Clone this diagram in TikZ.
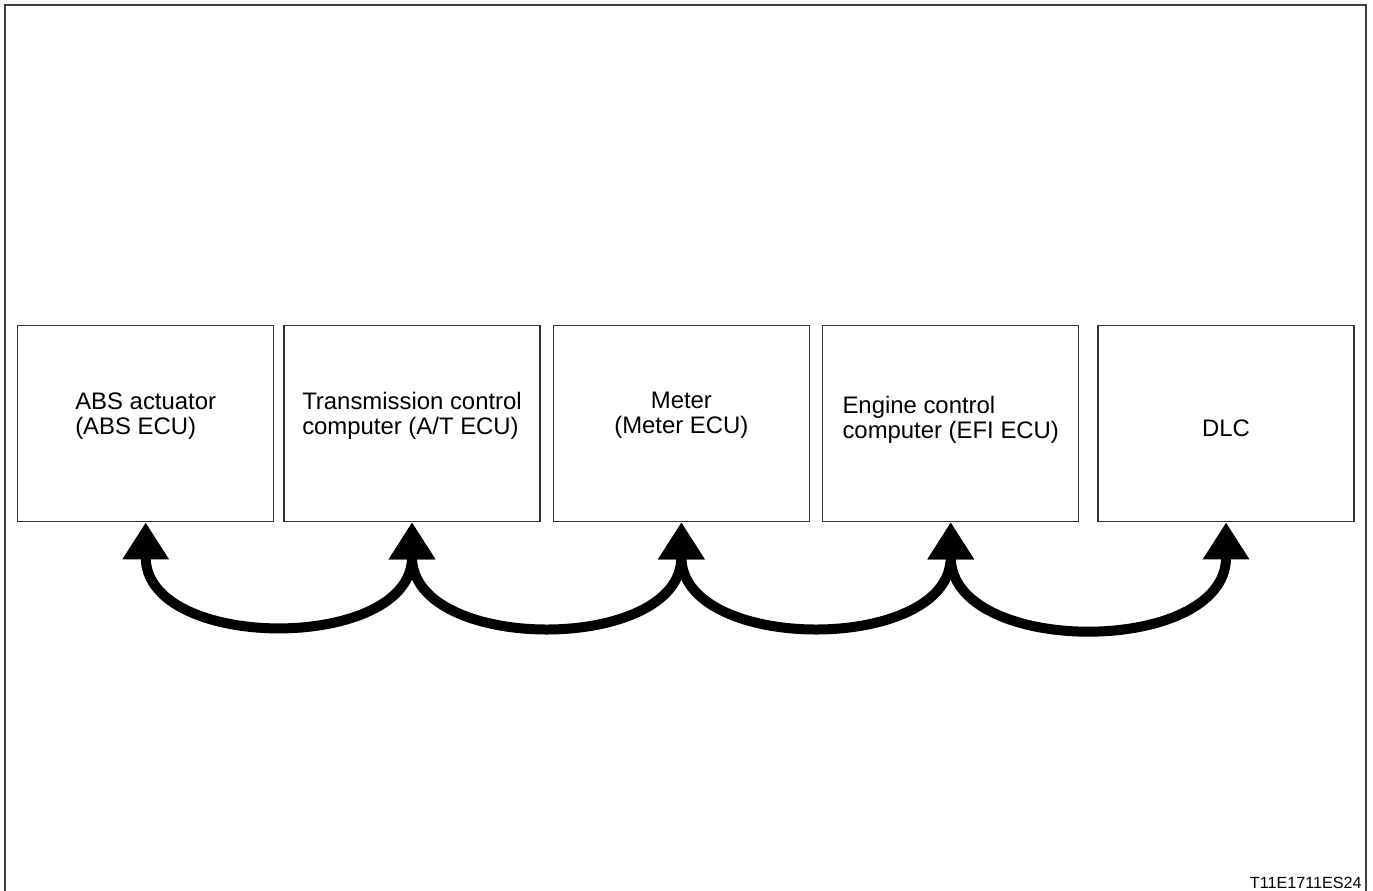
\documentclass[tikz,border=0pt]{standalone}
\usepackage{fontspec}
\setmainfont{Liberation Sans}
\usetikzlibrary{arrows.meta,positioning}
\tikzset{%
  >={Triangle[width=0.88cm,length=0.74cm]},
  % Specifications for style of nodes:
        base/.style = {rectangle, draw=black!80, line width=0.8pt,
                       minimum width=5.12cm, minimum height=3.92cm,
                       inner sep=0pt, font=\fontsize{13.6}{14.2}\selectfont},
      ecubox/.style = {base, align=left, text depth=11.9pt},
    meterbox/.style = {base, align=center, text depth=11.9pt},
      dlcbox/.style = {base, text height=14.3pt, text depth=0pt},
        link/.style = {<->, line width=0.2cm, looseness=1.25},
}
\begin{document}
\begin{tikzpicture}[x=0.02cm, y=-0.02cm]
  \useasboundingbox (0,0) rectangle (1373,891);
  % Outer frame (open at the bottom)
  \draw[black!75, line width=1.1pt] (5,891) -- (5,5) -- (1366,5) -- (1366,891);

  % Specification of nodes (position, etc.)
  \node (absEcu)   [ecubox, anchor=north west] at (17,325)  {ABS actuator\\(ABS ECU)};
  \node (atEcu)    [ecubox, right=0.18cm of absEcu]          {Transmission control\\computer (A/T ECU)};
  \node (meterEcu) [meterbox, right=0.24cm of atEcu]         {Meter\\(Meter ECU)};
  \node (efiEcu)   [ecubox, text depth=7.4pt, right=0.24cm of meterEcu] {Engine control\\computer (EFI ECU)};
  \node (dlc)      [dlcbox, right=0.36cm of efiEcu]          {DLC};

  \node (figCode)  [anchor=south east, inner sep=0pt, font=\fontsize{9.2}{10}\selectfont]
                   at (1362,889) {T11E1711ES24};

  % Specification of lines between nodes specified above
  \draw[link]   (absEcu.south) to[out=-90, in=-90] (atEcu.south);
  \draw[link]    (atEcu.south) to[out=-90, in=-90] (meterEcu.south);
  \draw[link] (meterEcu.south) to[out=-90, in=-90] (efiEcu.south);
  \draw[link]   (efiEcu.south) to[out=-90, in=-90] (dlc.south);
\end{tikzpicture}
\end{document}
